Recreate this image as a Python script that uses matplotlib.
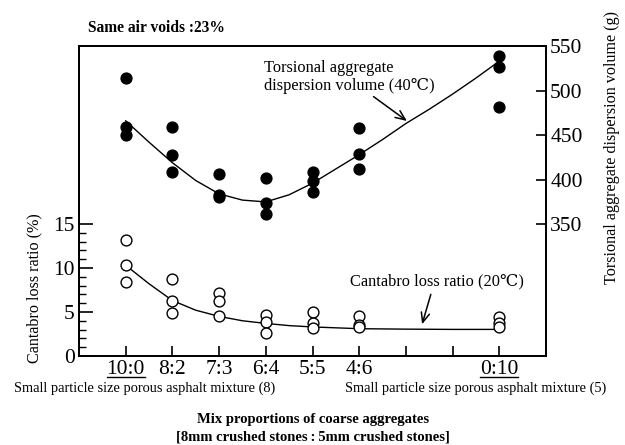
import numpy as np
import matplotlib
matplotlib.use('Agg')
import matplotlib.pyplot as plt
from matplotlib.lines import Line2D

plt.rcParams['font.family'] = ['Liberation Serif', 'DejaVu Serif', 'DejaVu Sans']

# categorie sull'asse x (posizioni 0..8, 6 e 7 senza etichetta)
etichette = ['10:0', '8:2', '7:3', '6:4', '5:5', '4:6', '', '', '0:10']

# torsional aggregate dispersion volume (g) - punti pieni
x_tors = [0, 0, 0, 1, 1, 1, 2, 2, 2, 3, 3, 3, 4, 4, 4, 5, 5, 5, 8, 8, 8]
y_tors = [514, 459, 450, 459, 428, 409, 406, 383, 380, 402, 374, 361,
          408, 399, 386, 458, 429, 412, 539, 526, 482]

# curva di tendenza
x_curva_tors = [0, 0.5, 1, 1.5, 2, 2.5, 3, 3.5, 4, 4.5, 5, 5.5, 6, 6.5, 7, 7.5, 8]
y_curva_tors = [466, 442, 419, 399, 384, 377, 375, 383, 396, 412, 428, 445,
                463, 479, 496, 514, 533]

# cantabro loss ratio (%) - punti vuoti
x_cant = [0, 0, 0, 1, 1, 1, 2, 2, 2, 3, 3, 3, 4, 4, 4, 5, 5, 5, 8, 8, 8]
y_cant = [13.2, 10.3, 8.4, 8.8, 6.3, 4.9, 7.2, 6.2, 4.5, 4.6, 3.9, 2.6,
          5.0, 3.8, 3.2, 4.5, 3.5, 3.3, 4.4, 3.8, 3.3]

x_curva_cant = [0, 0.5, 1, 1.5, 2, 2.5, 3, 3.5, 4, 4.5, 5, 6, 7, 8]
y_curva_cant = [10.3, 8.2, 6.3, 5.2, 4.5, 4.0, 3.7, 3.45, 3.3, 3.2, 3.1, 3.05, 3.02, 3.02]

fig = plt.figure(figsize=(6.25, 4.45), dpi=100)
ax = fig.add_axes([79/625, 1-356/445, (546-79)/625, (356-46)/445])
ax2 = ax.twinx()

# asse sinistro (cantabro)
ax.plot(x_curva_cant, y_curva_cant, color='black', lw=1.0, zorder=2)
ax.plot(x_cant, y_cant, 'o', ms=7.8, mfc='white', mec='black', mew=1, zorder=3)
ax.set_xlim(-1, 9)
ax.set_ylim(0, 35.2)
ax.set_yticks([0, 5, 10, 15])
ax.set_yticks(range(0, 16), minor=True)
ax.tick_params(axis='y', which='major', direction='in', length=10, width=1.2,
               labelsize=15.5, pad=3)
ax.tick_params(axis='y', which='minor', direction='in', length=5, width=1)
ax.set_xticks(range(9))
ax.set_xticklabels(etichette)
ax.tick_params(axis='x', direction='in', length=7, width=1.2, labelsize=15.5, pad=3)

# asse destro (torsional)
ax2.plot(x_curva_tors, y_curva_tors, color='black', lw=1.0, zorder=2)
ax2.plot(x_tors, y_tors, 'o', ms=7.8, color='black', zorder=3)
ax2.set_ylim(202, 550)
ax2.set_yticks([350, 400, 450, 500, 550])
ax2.tick_params(axis='y', direction='in', length=7, width=1.2, labelsize=15.5, pad=3)

for a in (ax, ax2):
    for s in a.spines.values():
        s.set_linewidth(1.3)

# annotazioni
ax2.annotate('', xy=(6.07, 464), xytext=(5.26, 495),
             arrowprops=dict(arrowstyle='->,head_length=0.7,head_width=0.3', lw=1.1, color='black'))
ax2.text(2.97, 515.5, 'Torsional aggregate\ndispersion volume (40\u2103)', fontsize=11.8,
         ha='left', va='center', linespacing=1.2)
ax.annotate('', xy=(6.33, 3.3), xytext=(6.55, 7.3),
            arrowprops=dict(arrowstyle='->,head_length=0.7,head_width=0.3', lw=1.1, color='black'))
ax.text(6.67, 8.44, 'Cantabro loss ratio (20\u2103)', fontsize=11.8, ha='center', va='center')

# testi del grafico
fig.text(88/625, 1-28/445, 'Same air voids :23%', fontsize=11.2, fontweight='bold',
         ha='left', va='center')
fig.text(34/625, 1-288/445, 'Cantabro loss ratio (%)', fontsize=11.6, rotation=90,
         ha='center', va='center')
fig.text(612/625, 1-147/445, 'Torsional aggregate dispersion volume (g)', fontsize=11.6,
         rotation=90, ha='center', va='center')
fig.text(145/625, 1-388/445, 'Small particle size porous asphalt mixture (8)', fontsize=10.4,
         ha='center', va='center')
fig.text(476/625, 1-388/445, 'Small particle size porous asphalt mixture (5)', fontsize=10.4,
         ha='center', va='center')
fig.text(313/625, 1-419/445, 'Mix proportions of coarse aggregates', fontsize=10.5,
         fontweight='bold', ha='center', va='center')
fig.text(313/625, 1-437/445, '[8mm crushed stones\u2009:\u20095mm crushed stones]', fontsize=10.5,
         fontweight='bold', ha='center', va='center')

# sottolineo 10:0 e 0:10
fig.canvas.draw()
r = fig.canvas.get_renderer()
for lab in ax.get_xticklabels():
    if lab.get_text() in ('10:0', '0:10'):
        bb = lab.get_window_extent(r)
        y = bb.y0 + 2
        fig.add_artist(Line2D([bb.x0 / 625, bb.x1 / 625], [y / 445, y / 445],
                              color='black', lw=1.0, transform=fig.transFigure))

fig.savefig('out.png', dpi=100)
